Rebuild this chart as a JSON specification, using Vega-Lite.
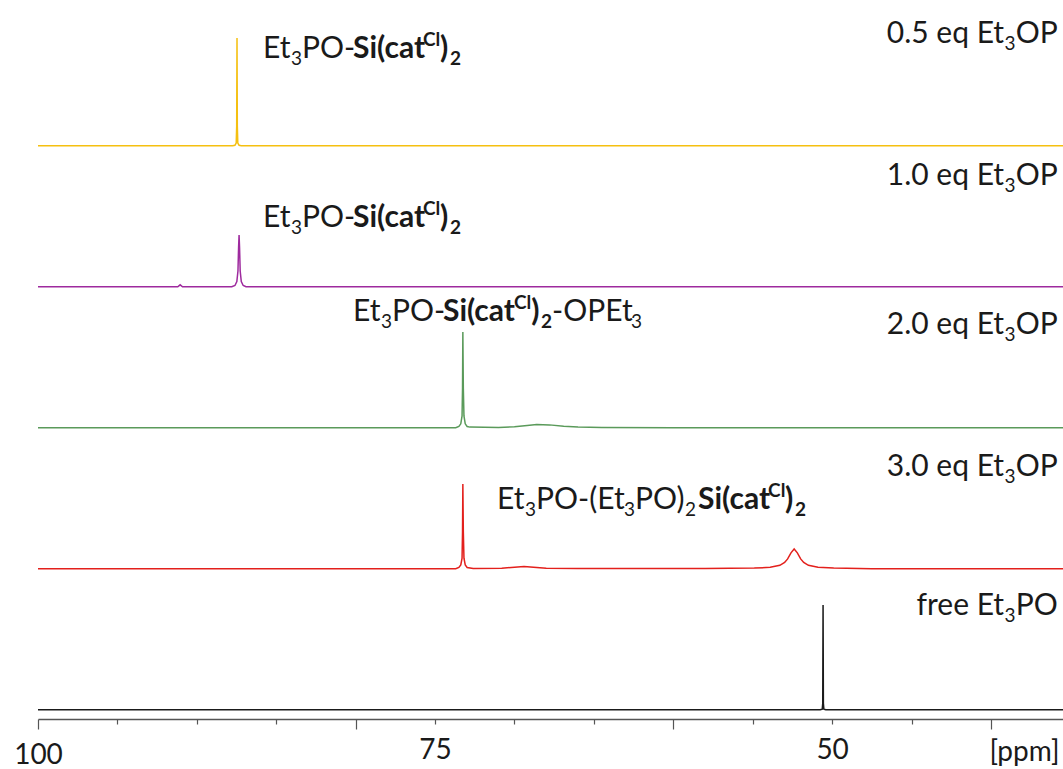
{
  "$schema": "https://vega.github.io/schema/vega-lite/v6.json",
  "autosize": {"type": "pad"},
  "bounds": "flush",
  "padding": {"left": 13, "top": 14, "right": 0, "bottom": 0},
  "background": "white",
  "config": {"view": {"stroke": null}, "font": "Lato"},
  "spacing": 0,
  "data": {"values": [
    {"series": "s05", "kind": "line", "ppm": 100, "val": 0},
    {"series": "s05", "kind": "line", "ppm": 87.75, "val": 0},
    {"series": "s05", "kind": "line", "ppm": 87.6, "val": 0.004},
    {"series": "s05", "kind": "line", "ppm": 87.52, "val": 0.02},
    {"series": "s05", "kind": "line", "ppm": 87.49, "val": 0.15},
    {"series": "s05", "kind": "line", "ppm": 87.47, "val": 0.818},
    {"series": "s05", "kind": "line", "ppm": 87.45, "val": 0.15},
    {"series": "s05", "kind": "line", "ppm": 87.42, "val": 0.02},
    {"series": "s05", "kind": "line", "ppm": 87.34, "val": 0.004},
    {"series": "s05", "kind": "line", "ppm": 87.2, "val": 0},
    {"series": "s05", "kind": "line", "ppm": 35.4, "val": 0},

    {"series": "s10", "kind": "line", "ppm": 100, "val": 0},
    {"series": "s10", "kind": "line", "ppm": 91.2, "val": 0},
    {"series": "s10", "kind": "line", "ppm": 91.05, "val": 0.015},
    {"series": "s10", "kind": "line", "ppm": 90.9, "val": 0},
    {"series": "s10", "kind": "line", "ppm": 87.8, "val": 0},
    {"series": "s10", "kind": "line", "ppm": 87.6, "val": 0.01},
    {"series": "s10", "kind": "line", "ppm": 87.48, "val": 0.04},
    {"series": "s10", "kind": "line", "ppm": 87.41, "val": 0.12},
    {"series": "s10", "kind": "line", "ppm": 87.37, "val": 0.3},
    {"series": "s10", "kind": "line", "ppm": 87.34, "val": 0.393},
    {"series": "s10", "kind": "line", "ppm": 87.31, "val": 0.3},
    {"series": "s10", "kind": "line", "ppm": 87.27, "val": 0.12},
    {"series": "s10", "kind": "line", "ppm": 87.2, "val": 0.04},
    {"series": "s10", "kind": "line", "ppm": 87.08, "val": 0.01},
    {"series": "s10", "kind": "line", "ppm": 86.9, "val": 0},
    {"series": "s10", "kind": "line", "ppm": 35.4, "val": 0},

    {"series": "s20", "kind": "line", "ppm": 100, "val": 0},
    {"series": "s20", "kind": "line", "ppm": 73.7, "val": 0},
    {"series": "s20", "kind": "line", "ppm": 73.5, "val": 0.01},
    {"series": "s20", "kind": "line", "ppm": 73.38, "val": 0.03},
    {"series": "s20", "kind": "line", "ppm": 73.3, "val": 0.09},
    {"series": "s20", "kind": "line", "ppm": 73.27, "val": 0.3},
    {"series": "s20", "kind": "line", "ppm": 73.25, "val": 0.727},
    {"series": "s20", "kind": "line", "ppm": 73.22, "val": 0.3},
    {"series": "s20", "kind": "line", "ppm": 73.18, "val": 0.09},
    {"series": "s20", "kind": "line", "ppm": 73.1, "val": 0.03},
    {"series": "s20", "kind": "line", "ppm": 72.98, "val": 0.01},
    {"series": "s20", "kind": "line", "ppm": 72.8, "val": 0.005},
    {"series": "s20", "kind": "line", "ppm": 71, "val": 0.003},
    {"series": "s20", "kind": "line", "ppm": 70, "val": 0.008},
    {"series": "s20", "kind": "line", "ppm": 69.2, "val": 0.018},
    {"series": "s20", "kind": "line", "ppm": 68.6, "val": 0.025},
    {"series": "s20", "kind": "line", "ppm": 67.8, "val": 0.022},
    {"series": "s20", "kind": "line", "ppm": 66.9, "val": 0.012},
    {"series": "s20", "kind": "line", "ppm": 66, "val": 0.006},
    {"series": "s20", "kind": "line", "ppm": 64.5, "val": 0.002},
    {"series": "s20", "kind": "line", "ppm": 60, "val": 0},
    {"series": "s20", "kind": "line", "ppm": 35.4, "val": 0},

    {"series": "s30", "kind": "line", "ppm": 100, "val": 0},
    {"series": "s30", "kind": "line", "ppm": 73.7, "val": 0},
    {"series": "s30", "kind": "line", "ppm": 73.5, "val": 0.01},
    {"series": "s30", "kind": "line", "ppm": 73.38, "val": 0.03},
    {"series": "s30", "kind": "line", "ppm": 73.3, "val": 0.08},
    {"series": "s30", "kind": "line", "ppm": 73.27, "val": 0.28},
    {"series": "s30", "kind": "line", "ppm": 73.25, "val": 0.643},
    {"series": "s30", "kind": "line", "ppm": 73.22, "val": 0.28},
    {"series": "s30", "kind": "line", "ppm": 73.18, "val": 0.08},
    {"series": "s30", "kind": "line", "ppm": 73.1, "val": 0.03},
    {"series": "s30", "kind": "line", "ppm": 72.98, "val": 0.01},
    {"series": "s30", "kind": "line", "ppm": 72.6, "val": 0.003},
    {"series": "s30", "kind": "line", "ppm": 70.8, "val": 0.004},
    {"series": "s30", "kind": "line", "ppm": 70, "val": 0.012},
    {"series": "s30", "kind": "line", "ppm": 69.4, "val": 0.017},
    {"series": "s30", "kind": "line", "ppm": 68.8, "val": 0.012},
    {"series": "s30", "kind": "line", "ppm": 68, "val": 0.004},
    {"series": "s30", "kind": "line", "ppm": 66, "val": 0.002},
    {"series": "s30", "kind": "line", "ppm": 58, "val": 0.002},
    {"series": "s30", "kind": "line", "ppm": 54.9, "val": 0.005},
    {"series": "s30", "kind": "line", "ppm": 53.9, "val": 0.011},
    {"series": "s30", "kind": "line", "ppm": 53.29, "val": 0.026},
    {"series": "s30", "kind": "line", "ppm": 52.99, "val": 0.048},
    {"series": "s30", "kind": "line", "ppm": 52.8, "val": 0.075},
    {"series": "s30", "kind": "line", "ppm": 52.59, "val": 0.121},
    {"series": "s30", "kind": "line", "ppm": 52.39, "val": 0.15},
    {"series": "s30", "kind": "line", "ppm": 52.19, "val": 0.121},
    {"series": "s30", "kind": "line", "ppm": 51.98, "val": 0.075},
    {"series": "s30", "kind": "line", "ppm": 51.79, "val": 0.048},
    {"series": "s30", "kind": "line", "ppm": 51.49, "val": 0.026},
    {"series": "s30", "kind": "line", "ppm": 50.89, "val": 0.011},
    {"series": "s30", "kind": "line", "ppm": 49.9, "val": 0.005},
    {"series": "s30", "kind": "line", "ppm": 47.5, "val": 0.001},
    {"series": "s30", "kind": "line", "ppm": 35.4, "val": 0},

    {"series": "free", "kind": "line", "ppm": 100, "val": 0},
    {"series": "free", "kind": "line", "ppm": 50.75, "val": 0},
    {"series": "free", "kind": "line", "ppm": 50.62, "val": 0.005},
    {"series": "free", "kind": "line", "ppm": 50.59, "val": 0.05},
    {"series": "free", "kind": "line", "ppm": 50.57, "val": 0.795},
    {"series": "free", "kind": "line", "ppm": 50.55, "val": 0.05},
    {"series": "free", "kind": "line", "ppm": 50.52, "val": 0.005},
    {"series": "free", "kind": "line", "ppm": 50.4, "val": 0},
    {"series": "free", "kind": "line", "ppm": 35.4, "val": 0},

    {"series": "s05", "kind": "n", "ppm": 85.83, "val": 0.666, "text": "Et"},
    {"series": "s05", "kind": "sub", "ppm": 84.07, "val": 0.666, "text": "3"},
    {"series": "s05", "kind": "n", "ppm": 83.38, "val": 0.666, "text": "PO-"},
    {"series": "s05", "kind": "b", "ppm": 80.16, "val": 0.666, "text": "Si(cat"},
    {"series": "s05", "kind": "bsup", "ppm": 75.76, "val": 0.666, "text": "Cl"},
    {"series": "s05", "kind": "b", "ppm": 74.69, "val": 0.666, "text": ")"},
    {"series": "s05", "kind": "bsub", "ppm": 74.06, "val": 0.666, "text": "2"},
    {"series": "s05", "kind": "nr", "ppm": 39.17, "val": 0.78, "text": "0.5 eq Et"},
    {"series": "s05", "kind": "sub", "ppm": 39.14, "val": 0.78, "text": "3"},
    {"series": "s05", "kind": "n", "ppm": 38.44, "val": 0.78, "text": "OP"},

    {"series": "s10", "kind": "n", "ppm": 85.83, "val": 0.454, "text": "Et"},
    {"series": "s10", "kind": "sub", "ppm": 84.07, "val": 0.454, "text": "3"},
    {"series": "s10", "kind": "n", "ppm": 83.38, "val": 0.454, "text": "PO-"},
    {"series": "s10", "kind": "b", "ppm": 80.16, "val": 0.454, "text": "Si(cat"},
    {"series": "s10", "kind": "bsup", "ppm": 75.76, "val": 0.454, "text": "Cl"},
    {"series": "s10", "kind": "b", "ppm": 74.69, "val": 0.454, "text": ")"},
    {"series": "s10", "kind": "bsub", "ppm": 74.06, "val": 0.454, "text": "2"},
    {"series": "s10", "kind": "nr", "ppm": 39.17, "val": 0.772, "text": "1.0 eq Et"},
    {"series": "s10", "kind": "sub", "ppm": 39.14, "val": 0.772, "text": "3"},
    {"series": "s10", "kind": "n", "ppm": 38.44, "val": 0.772, "text": "OP"},

    {"series": "s20", "kind": "n", "ppm": 80.16, "val": 0.81, "text": "Et"},
    {"series": "s20", "kind": "sub", "ppm": 78.4, "val": 0.81, "text": "3"},
    {"series": "s20", "kind": "n", "ppm": 77.71, "val": 0.81, "text": "PO-"},
    {"series": "s20", "kind": "b", "ppm": 74.5, "val": 0.81, "text": "Si(cat"},
    {"series": "s20", "kind": "bsup", "ppm": 70.03, "val": 0.81, "text": "Cl"},
    {"series": "s20", "kind": "b", "ppm": 68.95, "val": 0.81, "text": ")"},
    {"series": "s20", "kind": "bsub", "ppm": 68.33, "val": 0.81, "text": "2"},
    {"series": "s20", "kind": "n", "ppm": 67.63, "val": 0.81, "text": "-OPEt"},
    {"series": "s20", "kind": "sub", "ppm": 62.66, "val": 0.81, "text": "3"},
    {"series": "s20", "kind": "nr", "ppm": 39.17, "val": 0.712, "text": "2.0 eq Et"},
    {"series": "s20", "kind": "sub", "ppm": 39.14, "val": 0.712, "text": "3"},
    {"series": "s20", "kind": "n", "ppm": 38.44, "val": 0.712, "text": "OP"},

    {"series": "s30", "kind": "n", "ppm": 71.1, "val": 0.454, "text": "Et"},
    {"series": "s30", "kind": "sub", "ppm": 69.33, "val": 0.454, "text": "3"},
    {"series": "s30", "kind": "n", "ppm": 68.64, "val": 0.454, "text": "PO-(Et"},
    {"series": "s30", "kind": "sub", "ppm": 63.1, "val": 0.454, "text": "3"},
    {"series": "s30", "kind": "n", "ppm": 62.41, "val": 0.454, "text": "PO)"},
    {"series": "s30", "kind": "sub", "ppm": 59.26, "val": 0.454, "text": "2"},
    {"series": "s30", "kind": "b", "ppm": 58.44, "val": 0.454, "text": "Si(cat"},
    {"series": "s30", "kind": "bsup", "ppm": 54.03, "val": 0.454, "text": "Cl"},
    {"series": "s30", "kind": "b", "ppm": 52.96, "val": 0.454, "text": ")"},
    {"series": "s30", "kind": "bsub", "ppm": 52.33, "val": 0.454, "text": "2"},
    {"series": "s30", "kind": "nr", "ppm": 39.17, "val": 0.704, "text": "3.0 eq Et"},
    {"series": "s30", "kind": "sub", "ppm": 39.14, "val": 0.704, "text": "3"},
    {"series": "s30", "kind": "n", "ppm": 38.44, "val": 0.704, "text": "OP"},

    {"series": "free", "kind": "nr", "ppm": 39.17, "val": 0.719, "text": "free Et"},
    {"series": "free", "kind": "sub", "ppm": 39.14, "val": 0.719, "text": "3"},
    {"series": "free", "kind": "n", "ppm": 38.44, "val": 0.719, "text": "PO"}
  ]},
  "facet": {
    "row": {"field": "series", "type": "nominal", "title": null,
            "header": {"labels": false, "labelPadding": 0, "titlePadding": 0},
            "sort": ["s05", "s10", "s20", "s30", "free"]}
  },
  "spec": {
    "width": 1026,
    "height": 141,
    "encoding": {
      "x": {"field": "ppm", "type": "quantitative",
            "scale": {"domain": [100, 35.4], "nice": false, "zero": false},
            "axis": {
              "values": [100, 95, 90, 85, 80, 75, 70, 65, 60, 55, 50, 45, 40],
              "labelExpr": "(datum.value == 100 || datum.value == 75 || datum.value == 50) ? datum.label : ''",
              "tickSize": {"condition": {"test": "datum.value % 20 === 0", "value": 10}, "value": 5},
              "tickColor": "#555555", "tickWidth": 1.2,
              "domainColor": "#555555", "domainWidth": 1.5,
              "grid": false,
              "labelFont": "Lato", "labelFontSize": 28, "labelColor": "#1a1a1a",
              "labelBaseline": "alphabetic", "labelPadding": 34, "labelFlush": false, "labelOverlap": false,
              "title": "[ppm]", "titleFont": "Lato", "titleFontSize": 28, "titleFontWeight": "normal",
              "titleColor": "#1a1a1a", "titleAngle": 0, "titleAlign": "right", "titleBaseline": "alphabetic",
              "titleX": 1021, "titleY": 41
            }},
      "y": {"field": "val", "type": "quantitative",
            "scale": {"domain": [-0.07, 1], "nice": false, "zero": false}, "axis": null}
    },
    "layer": [
      {"transform": [{"filter": "datum.kind === 'line'"}],
       "mark": {"type": "line", "strokeWidth": 1.5},
       "encoding": {"color": {"field": "series", "type": "nominal", "legend": null,
         "scale": {"domain": ["s05", "s10", "s20", "s30", "free"],
                   "range": ["#F5C010", "#9E2A9E", "#5A9A5A", "#E3201C", "#1a1a1a"]}}}},
      {"transform": [{"filter": "datum.kind === 'n'"}],
       "mark": {"type": "text", "align": "left", "baseline": "alphabetic", "font": "Lato", "fontSize": 30, "color": "#1a1a1a"},
       "encoding": {"text": {"field": "text"}}},
      {"transform": [{"filter": "datum.kind === 'nr'"}],
       "mark": {"type": "text", "align": "right", "baseline": "alphabetic", "font": "Lato", "fontSize": 30, "color": "#1a1a1a"},
       "encoding": {"text": {"field": "text"}}},
      {"transform": [{"filter": "datum.kind === 'sub'"}],
       "mark": {"type": "text", "align": "left", "baseline": "alphabetic", "font": "Lato", "fontSize": 19, "dy": 7, "color": "#1a1a1a"},
       "encoding": {"text": {"field": "text"}}},
      {"transform": [{"filter": "datum.kind === 'b'"}],
       "mark": {"type": "text", "align": "left", "baseline": "alphabetic", "font": "Lato", "fontSize": 30, "fontWeight": "bold", "color": "#1a1a1a"},
       "encoding": {"text": {"field": "text"}}},
      {"transform": [{"filter": "datum.kind === 'bsub'"}],
       "mark": {"type": "text", "align": "left", "baseline": "alphabetic", "font": "Lato", "fontSize": 19, "fontWeight": "bold", "dy": 7, "color": "#1a1a1a"},
       "encoding": {"text": {"field": "text"}}},
      {"transform": [{"filter": "datum.kind === 'bsup'"}],
       "mark": {"type": "text", "align": "left", "baseline": "alphabetic", "font": "Lato", "fontSize": 19, "fontWeight": "bold", "dy": -12, "color": "#1a1a1a"},
       "encoding": {"text": {"field": "text"}}}
    ]
  }
}
